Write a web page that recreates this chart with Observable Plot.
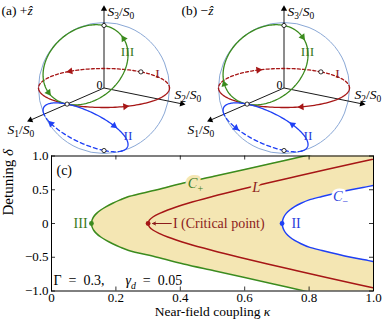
<!DOCTYPE html>
<html><head><meta charset="utf-8">
<script src="https://cdn.jsdelivr.net/npm/d3@7"></script>
<script src="https://cdn.jsdelivr.net/npm/@observablehq/plot@0.6"></script>
<style>
body{margin:0;background:#fff;}
#wrap{position:relative;width:382px;height:319px;overflow:hidden;background:#fff;}
#wrap svg{position:absolute;left:0;top:0;}
#wrap text{white-space:pre;}
</style></head><body><div id="wrap"></div>
<script>
// ---------------- data: panel (c) ----------------
// half-curves (delta >= 0), mirrored for delta < 0
const deltaCplus = [0, 0.05, 0.1, 0.15, 0.2, 0.25, 0.3, 0.35, 0.4, 0.5, 0.6, 0.7, 0.8, 0.9, 1.0, 1.1];
const kappaCplus = [0.124, 0.126, 0.131, 0.140, 0.153, 0.170, 0.190, 0.213, 0.240, 0.328, 0.410, 0.505, 0.600, 0.693, 0.785, 0.88];
const deltaL = [0, 0.05, 0.1, 0.15, 0.2, 0.3, 0.4, 0.5, 0.6, 0.7, 0.8, 0.9, 1.0];
const kappaL = [0.300, 0.304, 0.316, 0.336, 0.361, 0.424, 0.500, 0.583, 0.671, 0.762, 0.854, 0.948, 1.044];
const deltaCminus = [0, 0.05, 0.1, 0.15, 0.2, 0.25, 0.3, 0.35, 0.4, 0.5, 0.55, 0.6];
const kappaCminus = [0.716, 0.718, 0.722, 0.729, 0.740, 0.755, 0.775, 0.800, 0.840, 0.930, 0.985, 1.04];
const pointNames = ["III", "I", "II"];
const pointKappa = [0.124, 0.300, 0.716];
const xTicks = [0, 0.2, 0.4, 0.6, 0.8, 1.0];
const xTickLabels = ["0", "0.2", "0.4", "0.6", "0.8", "1.0"];
const yTicks = [-1, -0.5, 0, 0.5, 1];
const yTickLabels = ["−1.0", "−0.5", "0", "0.5", "1.0"];
const params = "n:Γ\u2002=\u20020.3,\u2003\u2002|i:γ|si:d|n:\u2002=\u20020.05";

// ---------------- data: Poincaré spheres (a), (b) ----------------
const panelNames = ["n:(a) +|i:ẑ", "n:(b) −|i:ẑ"];
const panelDirection = [1, -1];
const loopNames = ["I", "III", "II"];
const loopCenters = [[0, 0, 0], [0.5, 0, 0.5], [0.5, 0, -0.5]];
const loopU = [[1, 0, 0], [Math.SQRT1_2, 0, -Math.SQRT1_2], [Math.SQRT1_2, 0, Math.SQRT1_2]];
const loopW = [[0, 1, 0], [0, 1, 0], [0, 1, 0]];
const loopRadius = [1, Math.SQRT1_2, Math.SQRT1_2];
const arrowParams = [
  [[-114.7, 53.3], [142, -35], [68, -100]],
  [[-122.7, 49.8], [145, -50], [65, -110]]
];
const markerParam = 180;
const axisNames = ["i:S|s:1|n:/|i:S|s:0", "i:S|s:2|n:/|i:S|s:0", "i:S|s:3|n:/|i:S|s:0"];
const axisDirs = [[1, 0, 0], [0, 1, 0], [0, 0, 1]];
const axisLengths = [2.05, 1.48, 1.3];

// ---------------- styles ----------------
const FONT = '"Liberation Serif", "Times New Roman", serif';
const GREEN = "#3b8b1e", GREEN_T = "#3a7a22", RED = "#a61616", RED_T = "#8c1c1c";
const BLUE = "#1f40f5", BLUE_T = "#2a40dc", BEIGE = "#f4e6b3", SPHERE = "#8aa8d6";
const loopColors = [RED, GREEN, BLUE];
const loopTextColors = [RED_T, GREEN_T, BLUE_T];
const loopDash = ["3,2.2", null, "4,3"];
const loopLabelOffset = [[53.5, 73], [23.5, 51], [24, 135]];

// ---------------- panel (c) ----------------
function fullCurve(ds, ks) {
  const pts = [];
  for (let i = ds.length - 1; i >= 0; i--) pts.push({delta: -ds[i], kappa: ks[i]});
  for (let i = 1; i < ds.length; i++) pts.push({delta: ds[i], kappa: ks[i]});
  return pts;
}
const cPlus = fullCurve(deltaCplus, kappaCplus);
const cL = fullCurve(deltaL, kappaL);
const cMinus = fullCurve(deltaCminus, kappaCminus);
const pts = pointNames.map((n, i) => ({name: n, kappa: pointKappa[i]}));

const chart = Plot.plot({
  width: 382, height: 319,
  marginTop: 155.5, marginBottom: 28.5, marginLeft: 51, marginRight: 9,
  x: {domain: [0, 1], axis: null},
  y: {domain: [-1, 1], axis: null},
  style: {fontFamily: FONT, fontSize: "13px", background: "transparent", color: "black"},
  marks: [
    Plot.areaX(cPlus, {y: "delta", x1: "kappa", x2: 1.2, fill: BEIGE, curve: "catmull-rom", clip: true}),
    Plot.areaX(cMinus, {y: "delta", x1: "kappa", x2: 1.2, fill: "white", curve: "catmull-rom", clip: true}),
    Plot.line(cPlus, {x: "kappa", y: "delta", stroke: GREEN, strokeWidth: 1.5, curve: "catmull-rom", clip: true}),
    Plot.line(cL, {x: "kappa", y: "delta", stroke: RED, strokeWidth: 1.5, curve: "catmull-rom", clip: true}),
    Plot.line(cMinus, {x: "kappa", y: "delta", stroke: BLUE, strokeWidth: 1.5, curve: "catmull-rom", clip: true}),
    Plot.dot(pts, {x: "kappa", y: 0, r: 2.4, fill: (d, i) => [GREEN, RED, BLUE][i], stroke: "none"}),
    Plot.arrow([0], {x1: 0.372, x2: 0.314, y1: 0, y2: 0, stroke: RED_T, strokeWidth: 1, headLength: 5, headAngle: 50}),
    Plot.text(["III"], {x: 0.112, y: 0, textAnchor: "end", fill: GREEN_T, fontSize: 14}),
    Plot.text(["I (Critical point)"], {x: 0.377, y: 0, textAnchor: "start", fill: RED_T, fontSize: 14}),
    Plot.text(["II"], {x: 0.745, y: 0, textAnchor: "start", fill: BLUE_T, fontSize: 14}),
    Plot.text(["i:C|s:+"], {x: 0.447, y: 0.59, fill: GREEN_T, stroke: BEIGE, strokeWidth: 6, fontSize: 14.5}),
    Plot.text(["i:L"], {x: 0.636, y: 0.54, fill: RED_T, stroke: BEIGE, strokeWidth: 6, fontSize: 14.5}),
    Plot.text(["i:C|s:−"], {x: 0.898, y: 0.40, fill: BLUE_T, stroke: "white", strokeWidth: 5, fontSize: 14.5}),
    Plot.text(["(c)"], {x: 0.0155, y: 0.785, textAnchor: "start", fontSize: 14}),
    Plot.text([params], {x: 0.006, y: -0.845, textAnchor: "start", fontSize: 14}),
    Plot.frame({stroke: "black", strokeWidth: 1}),
    Plot.tickX(xTicks, {x: d => d, insetTop: 131, stroke: "black", strokeWidth: 0.8}),
    Plot.tickX(xTicks, {x: d => d, insetBottom: 131, stroke: "black", strokeWidth: 0.8}),
    Plot.tickY(yTicks, {y: d => d, insetLeft: 318, stroke: "black", strokeWidth: 0.8}),
    Plot.tickY(yTicks, {y: d => d, insetRight: 318, stroke: "black", strokeWidth: 0.8}),
    Plot.text(xTicks, {x: d => d, frameAnchor: "bottom", dy: 1.5, lineAnchor: "top", text: (d, i) => xTickLabels[i]}),
    Plot.text(yTicks, {y: d => d, frameAnchor: "left", dx: -3, textAnchor: "end", text: (d, i) => yTickLabels[i]}),
    Plot.text(["n:Near-field coupling |i:κ"], {frameAnchor: "bottom", dy: 25, lineAnchor: "bottom", fontSize: 13.5}),
    Plot.text(["n:Detuning |i:δ"], {frameAnchor: "left", dx: -39, dy: -8, rotate: -90, lineAnchor: "bottom", fontSize: 15})
  ]
});

// ---------------- spheres ----------------
const R = 65.5, CY = 87.5;
const sphereCenters = [103.5, 283.5];
const elev = Math.asin(0.298), t1 = 124.3 * Math.PI / 180, t2 = t1 - Math.PI / 2;
const ex = [Math.cos(t1), Math.cos(t2), 0];
const ey = [Math.sin(elev) * Math.sin(t1), Math.sin(elev) * Math.sin(t2), -Math.cos(elev)];
const ez = [Math.cos(elev) * Math.sin(t1), Math.cos(elev) * Math.sin(t2), Math.sin(elev)];
const dot3 = (a, b) => a[0] * b[0] + a[1] * b[1] + a[2] * b[2];
const proj = (s, cx) => ({x: cx + R * dot3(s, ex), y: CY + R * dot3(s, ey), depth: dot3(s, ez)});
function loopAt(j, deg) {
  const r = deg * Math.PI / 180, c = Math.cos(r), s = Math.sin(r);
  return [0, 1, 2].map(k => loopCenters[j][k] + loopRadius[j] * (c * loopU[j][k] + s * loopW[j][k]));
}
const rot = (dx, dy) => Math.atan2(dx, -dy) * 180 / Math.PI;

const sm = [];
sm.push(Plot.dot(sphereCenters, {x: d => d, y: () => CY, r: R, stroke: SPHERE, strokeWidth: 1, fill: "none"}));
sphereCenters.forEach((cx, p) => {
  const axes = axisDirs.map((d, k) => {
    const tip = proj(d.map(v => v * axisLengths[k]), cx);
    const dx = tip.x - cx, dy = tip.y - CY, L = Math.hypot(dx, dy);
    return {x1: cx, y1: CY, x2: tip.x - dx / L * 2, y2: tip.y - dy / L * 2, hx: tip.x - dx / L * 2.2, hy: tip.y - dy / L * 2.2, a: rot(dx, dy)};
  });
  sm.push(Plot.link(axes, {x1: "x1", y1: "y1", x2: "x2", y2: "y2", stroke: "black", strokeWidth: 0.9}));
  sm.push(Plot.dot(axes, {x: "hx", y: "hy", symbol: "triangle", r: 2.3, fill: "black", stroke: "none", rotate: "a"}));
  loopNames.forEach((name, j) => {
    const pts = [];
    for (let a = -180; a <= 180; a += 2) pts.push(proj(loopAt(j, a), cx));
    const n = pts.length;
    const side = (cond) => pts.map((q, i) => (cond(q) || (i > 0 && cond(pts[i - 1])) || (i < n - 1 && cond(pts[i + 1]))) ? q : {x: NaN, y: NaN});
    const front = side(q => q.depth >= 0), back = side(q => q.depth < 0);
    sm.push(Plot.line(front, {x: "x", y: "y", stroke: loopColors[j], strokeWidth: 1.3, curve: "linear"}));
    sm.push(Plot.line(back, {x: "x", y: "y", stroke: loopColors[j], strokeWidth: 1.3, strokeDasharray: loopDash[j] || "3,2"}));
    const arr = arrowParams[p][j].map(a => {
      const q = proj(loopAt(j, a), cx), q1 = proj(loopAt(j, a + 3), cx), q0 = proj(loopAt(j, a - 3), cx);
      const s = panelDirection[p];
      return {x: q.x, y: q.y, a: rot(s * (q1.x - q0.x), s * (q1.y - q0.y))};
    });
    sm.push(Plot.dot(arr, {x: "x", y: "y", symbol: "triangle", r: 2.6, fill: loopColors[j], stroke: "none", rotate: "a"}));
    sm.push(Plot.text([name], {x: () => cx + loopLabelOffset[j][0], y: () => loopLabelOffset[j][1], fill: loopTextColors[j], fontSize: 13.5}));
  });
  const marks = [proj([1, 0, 0], cx)].concat(loopNames.map((n, j) => proj(loopAt(j, markerParam), cx)));
  sm.push(Plot.dot(marks, {x: "x", y: "y", r: 2.1, fill: "white", stroke: "black", strokeWidth: 0.8}));
  sm.push(Plot.text(["0"], {x: () => cx - 4.5, y: () => 84.5, fontSize: 12}));
  sm.push(Plot.text([axisNames[2]], {x: () => cx + 3.5, y: () => 11, textAnchor: "start", fontSize: 13.5}));
  sm.push(Plot.text([axisNames[1]], {x: () => cx + 70.5, y: () => 94, textAnchor: "start", fontSize: 13.5}));
  sm.push(Plot.text([axisNames[0]], {x: () => cx - 96.5, y: () => 129, textAnchor: "start", fontSize: 13.5}));
  sm.push(Plot.text([panelNames[p]], {x: () => cx - 102.5, y: () => 10, textAnchor: "start", fontSize: 13.5}));
});

const spheres = Plot.plot({
  width: 382, height: 160, margin: 0,
  x: {domain: [0, 382], range: [0, 382], axis: null},
  y: {domain: [0, 160], range: [0, 160], axis: null},
  style: {fontFamily: FONT, fontSize: "13px", background: "transparent", color: "black", overflow: "visible"},
  marks: sm
});

function rich(svg) {
  for (const t of svg.querySelectorAll("text")) {
    const s = t.textContent;
    if (!/^[ins]+:/.test(s)) continue;
    while (t.firstChild) t.removeChild(t.firstChild);
    let shift = 0;
    for (const seg of s.split("|")) {
      const k = seg.indexOf(":"), f = seg.slice(0, k), str = seg.slice(k + 1);
      const ts = document.createElementNS("http://www.w3.org/2000/svg", "tspan");
      ts.textContent = str;
      if (f.includes("i")) ts.setAttribute("font-style", "italic");
      const want = f.includes("s") ? 3.5 : 0;
      if (f.includes("s")) ts.setAttribute("font-size", "0.7em");
      if (want !== shift) { ts.setAttribute("dy", want - shift); shift = want; }
      t.appendChild(ts);
    }
  }
}
rich(chart); rich(spheres);
const wrap = document.getElementById("wrap");
wrap.appendChild(chart);
wrap.appendChild(spheres);
</script></body></html>
